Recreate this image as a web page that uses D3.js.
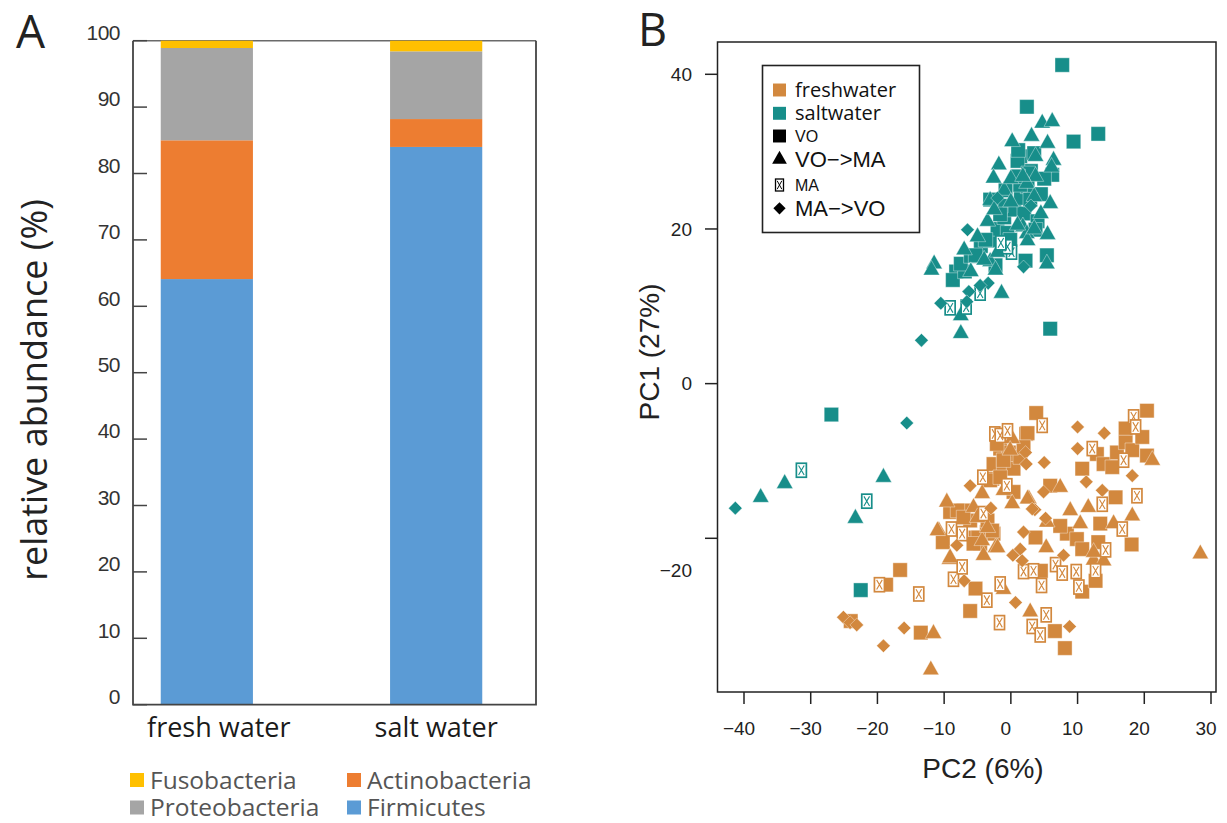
<!DOCTYPE html>
<html><head><meta charset="utf-8">
<script src="https://cdn.jsdelivr.net/npm/d3@7"></script>
<style>body{margin:0;background:#fff}</style>
</head><body>
<svg id="c" width="1227" height="823"></svg>
<script>
// ---------- Panel A data ----------
const barCategories = ["fresh water", "salt water"];
const phyla = ["Firmicutes", "Actinobacteria", "Proteobacteria", "Fusobacteria"];
const firmicutes = [64.1, 84.0];
const actinobacteria = [20.9, 4.2];
const proteobacteria = [13.9, 10.2];
const fusobacteria = [1.1, 1.6];
const barTicks = [0, 10, 20, 30, 40, 50, 60, 70, 80, 90, 100];
const legendRows = [["Fusobacteria", "Actinobacteria"], ["Proteobacteria", "Firmicutes"]];

// ---------- Panel B data ([PC2, PC1]) ----------
const pc2Ticks = [-40, -30, -20, -10, 0, 10, 20, 30];
const pc1Ticks = [-20, 0, 20, 40];
const habitats = ["freshwater", "saltwater"];
const treatments = ["VO", "VO->MA", "MA", "MA->VO"];

const saltVO = [[-26.9,-4.0],[-22.5,-26.7],[7.7,41.2],[2.4,35.8],[13.1,32.3],[9.4,31.3],[1.4,29.4],[6.2,27.0],[-8.2,14.5],[-8.7,13.4],[-6.9,14.5],[5.4,16.6],[5.9,7.1],[-7.5,15.5],[-6,16.5],[-4.5,17.8],[-3,18.5],[-2,20],[-1,21.5],[0.5,22.5],[1.5,24],[2.5,25.5],[3,27.5],[1,28.8],[2,22],[-0.5,19.5],[-1.5,23.0],[4,21],[4.5,24.5],[5,26.5],[3.5,29.8],[2.6,27.2],[-3.1,23.8],[-1.6,21.9],[2.9,23.8],[3.7,19.9],[-3.8,18.6],[-5.3,16.6],[-0.1,18.6],[1.4,25.7],[-0.8,25.0],[2.2,15.9],[-2.3,15.3],[1.1,30.2],[1.1,26.8]];
const saltVOMA = [[-33.9,-12.9],[-37.5,-14.7],[-19.1,-12.1],[-23.3,-17.4],[4.7,33.7],[6.2,33.9],[3.1,32.0],[0.2,31.3],[5.5,31.1],[3.7,29.4],[6.4,28.9],[-1.8,28.3],[-2.6,26.6],[3.7,26.8],[5.9,23.3],[-3.1,23.7],[1.8,20.3],[2.4,19.4],[-7.0,17.3],[-11.5,15.5],[-11.9,14.7],[-3.1,15.8],[5.4,15.5],[-1.4,11.7],[-2.3,14.7],[-7.5,8.8],[-7.5,6.5],[2.4,25.9],[3.5,24.2],[-5,19],[-3.5,21],[-2.5,22.5],[-1,25],[0,26.5],[1,20.5],[2.5,18.5],[3.5,20],[4.5,22],[-4,16],[-6,14.5],[0,23.5],[1.8,26.8],[-2,17],[5.5,19.3],[6.1,28.0]];
const saltMA = [[-31.4,-11.2],[-21.6,-15.2],[0.1,17.0],[-0.5,17.7],[-4.6,11.7],[-9.1,9.8],[-6.7,9.9],[-1.5,18.2]];
const saltMAVO = [[-15.6,-5.1],[-41.3,-16.1],[-6.5,19.9],[1.9,15.1],[-3.4,13.0],[-6.3,11.9],[-10.5,10.4],[-6.6,10.6],[-13.4,5.6],[-4.6,12.7],[-2,24],[3,23]];

const freshVO = [[-16.6,-24.1],[-18.7,-26.0],[-24.0,-30.7],[-13.5,-32.2],[-6.1,-29.4],[-5.3,-26.5],[6.6,-32.0],[8.1,-34.2],[4.5,-24.2],[10.7,-26.9],[12.7,-25.5],[13.1,-20.5],[18.1,-20.8],[15.7,-14.7],[13.4,-18.1],[8.4,-19.4],[9.9,-20.1],[7.4,-18.4],[10.7,-21.4],[3.7,-19.9],[5.9,-13.2],[0.4,-14.0],[-2.8,-12.3],[-9.1,-16.6],[-7.1,-16.4],[-6.1,-17.7],[-10.2,-20.5],[-5.3,-19.9],[-3.6,-19.2],[-2.6,-19.4],[-4.6,-20.7],[3.8,-3.8],[2.3,-6.5],[-1.6,-8.4],[-0.3,-8.9],[0.7,-9.5],[-2.6,-10.4],[-1.1,-10.4],[0.4,-11.0],[-3.1,-12.5],[12.9,-9.1],[10.7,-11.0],[13.9,-10.4],[15.2,-10.8],[15.9,-8.9],[17.2,-5.8],[17.2,-7.6],[18.2,-8.6],[20.4,-3.5],[19.7,-6.9],[20.4,-9.3],[-2.1,-7.8],[-1.1,-9.9],[1.4,-9.5],[2.5,-6.4],[1.9,-8.2],[-1.6,-12.1],[-8.0,-16.4],[-7.1,-17.3],[-3.5,-17.7],[-2.8,-19.0],[-4.9,-19.9],[-5.6,-20.7]];
const freshVOMA = [[-11.6,-32.3],[-12.0,-37.0],[-1.1,-26.6],[2.9,-29.5],[12.4,-22.8],[13.9,-22.9],[12.4,-21.8],[18.2,-17.1],[15.4,-18.1],[28.4,-22.0],[11.6,-16.0],[8.9,-16.4],[10.4,-18.1],[5.4,-17.9],[5.3,-21.2],[2.7,-14.9],[7.4,-13.4],[0.2,-15.5],[-4.3,-14.2],[-9.6,-15.3],[-5.6,-16.0],[-10.8,-19.0],[-2.3,-21.2],[-4.1,-22.2],[-9.2,-22.7],[0.2,-7.1],[21.2,-9.9],[-4.3,-20.3],[-0.1,-8.6],[-1.1,-13.8],[2.5,-14.9],[-11.0,-19.0],[-5.0,-17.3],[-3.5,-18.6],[-2.0,-21.2],[-9.1,-22.5]];
const freshMA = [[-19.7,-26.0],[-13.8,-27.2],[-8.6,-25.3],[-7.3,-23.7],[-3.6,-28.0],[-1.6,-25.9],[-1.7,-30.9],[5.3,-29.9],[3.2,-31.4],[4.4,-32.5],[1.9,-24.3],[3.4,-24.2],[6.7,-23.4],[7.7,-24.5],[4.6,-26.1],[9.8,-24.3],[10.2,-26.3],[12.7,-24.2],[14.2,-21.5],[16.7,-18.8],[18.9,-14.5],[13.7,-15.6],[-0.6,-13.2],[-4.2,-12.1],[-4.1,-16.8],[-8.9,-18.8],[-7.3,-19.4],[4.7,-5.4],[-2.4,-6.5],[-1.6,-6.7],[-0.5,-6.1],[12.2,-8.4],[18.4,-4.3],[18.7,-5.6],[16.9,-9.9]];
const freshMAVO = [[-25.1,-30.2],[-24.1,-30.9],[-23.1,-31.2],[-16.0,-31.6],[-19.1,-33.9],[-7.0,-25.5],[0.7,-28.3],[8.8,-31.4],[13.7,-13.8],[11.3,-12.7],[18.2,-11.9],[1.9,-19.2],[1.4,-21.4],[0.3,-22.2],[1.7,-22.9],[7.9,-22.2],[3.6,-16.3],[4.9,-14.0],[-6.1,-13.2],[-3.0,-16.1],[-8.1,-20.9],[2.2,-8.9],[2.3,-10.4],[5.0,-10.2],[10.0,-5.6],[14.0,-6.4],[10.0,-8.4],[3.2,-16.2],[5.2,-17.4]];

// ---------- styling ----------
const phylumColors = {Firmicutes:"#5B9BD5", Actinobacteria:"#ED7D31", Proteobacteria:"#A5A5A5", Fusobacteria:"#FFC000"};
const habitatColors = {freshwater:"#D2883E", saltwater:"#178E8A"};
const humanist = "'Open Sans', 'Noto Sans', sans-serif";
const arial = "'Liberation Sans', Arial, sans-serif";

const svg = d3.select("#c");

// ================= Panel A =================
const A = {left:133, right:536, top:40.7, bottom:704.7};
const yA = d3.scaleLinear().domain([0,100]).range([A.bottom, A.top]);
const xA = d3.scaleBand().domain(barCategories).range([A.left, 510]).paddingInner(0.598).paddingOuter(0.121);

const barTable = barCategories.map((c,i)=>({cat:c, Firmicutes:firmicutes[i], Actinobacteria:actinobacteria[i], Proteobacteria:proteobacteria[i], Fusobacteria:fusobacteria[i]}));
const stacked = d3.stack().keys(phyla)(barTable);

svg.append("line").attr("x1",A.left).attr("x2",A.right).attr("y1",A.top).attr("y2",A.top)
  .attr("stroke","#6a6a6a").attr("stroke-width",1.6);

svg.append("g").selectAll("g").data(stacked).join("g")
  .attr("fill", d=>phylumColors[d.key])
  .selectAll("rect").data(d=>d).join("rect")
  .attr("x", d=>xA(d.data.cat)).attr("width", xA.bandwidth())
  .attr("y", d=>yA(d[1])).attr("height", d=>yA(d[0])-yA(d[1]));

// frame
svg.append("path").attr("d",`M${A.left},${A.top}V${A.bottom}H${A.right}V${A.top}`)
  .attr("fill","none").attr("stroke","#444").attr("stroke-width",1.8);

// y axis (inward ticks)
const yAxisA = svg.append("g");
yAxisA.selectAll("line").data(barTicks).join("line")
  .attr("x1",A.left).attr("x2",A.left+14).attr("y1",d=>yA(d)).attr("y2",d=>yA(d))
  .attr("stroke","#444").attr("stroke-width",1.5);
yAxisA.selectAll("text").data(barTicks).join("text")
  .attr("x",A.left-13).attr("y",d=>yA(d)-8).attr("dy","0.35em")
  .attr("text-anchor","end").attr("font-family",arial).attr("font-size",21)
  .attr("fill","#333").attr("letter-spacing",-0.5).text(d=>d);

// category labels
svg.append("g").selectAll("text").data(barCategories).join("text")
  .attr("x",d=>xA(d)+xA.bandwidth()/2 + (d==="fresh water" ? 12 : 0)).attr("y",737)
  .attr("text-anchor","middle").attr("font-family",humanist).attr("font-size",27)
  .attr("fill","#1a1a1a").text(d=>d);

// y title
svg.append("text").attr("transform","translate(47,390) rotate(-90)")
  .attr("text-anchor","middle").attr("font-family",humanist).attr("font-size",36)
  .attr("fill","#222").text("relative abundance (%)");

// panel letter
svg.append("text").attr("x",16).attr("y",48).attr("font-family",humanist).attr("font-size",46)
  .attr("fill","#222").text("A");

// legend A
const legA = svg.append("g");
legendRows.forEach((row,ri)=>{
  row.forEach((name,ci)=>{
    const x0 = ci===0 ? 130 : 347;
    const yc = ri===0 ? 780 : 807.5;
    legA.append("rect").attr("x",x0).attr("y",yc-7).attr("width",14).attr("height",14)
      .attr("fill",phylumColors[name]);
    legA.append("text").attr("x",x0+20).attr("y",yc+8.5).attr("font-family",humanist)
      .attr("font-size",24.5).attr("fill","#555").text(name);
  });
});

// ================= Panel B =================
const B = {left:717.5, right:1216, top:42, bottom:692};
const xB = d3.scaleLinear().domain([-40,30]).range([744,1211]);
const yB = d3.scaleLinear().domain([-20,40]).range([538.3,74.3]);

function markerPath(type){
  if(type==="VO") return "M-7.2,-7.2H7.2V7.2H-7.2Z";
  if(type==="VO->MA") return "M0,-9.6L8.2,5L-8.2,5Z";
  if(type==="MA->VO") return "M0,-6.8L6.8,0L0,6.8L-6.8,0Z";
  return null;
}
function drawPoints(g, data, type, color){
  const sel = g.selectAll(null).data(data).join("g")
    .attr("transform", d=>`translate(${xB(d[0])},${yB(d[1])})`);
  if(type==="MA"){
    sel.append("rect").attr("x",-5).attr("y",-7).attr("width",10).attr("height",14)
      .attr("fill","#fff").attr("stroke",color).attr("stroke-width",1.7);
    sel.append("path").attr("d","M-2.8,-4.8L2.8,4.8M2.8,-4.8L-2.8,4.8")
      .attr("stroke",color).attr("stroke-width",1.1).attr("fill","none");
  } else {
    sel.append("path").attr("d",markerPath(type)).attr("fill",color)
      .attr("stroke","#fff").attr("stroke-width",0.7).attr("stroke-opacity",0.55);
  }
}

const pts = svg.append("g");
drawPoints(pts, saltVO, "VO", habitatColors.saltwater);
drawPoints(pts, saltVOMA, "VO->MA", habitatColors.saltwater);
drawPoints(pts, saltMA, "MA", habitatColors.saltwater);
drawPoints(pts, saltMAVO, "MA->VO", habitatColors.saltwater);
drawPoints(pts, freshVO, "VO", habitatColors.freshwater);
drawPoints(pts, freshVOMA, "VO->MA", habitatColors.freshwater);
drawPoints(pts, freshMA, "MA", habitatColors.freshwater);
drawPoints(pts, freshMAVO, "MA->VO", habitatColors.freshwater);

// frame
svg.append("rect").attr("x",B.left).attr("y",B.top).attr("width",B.right-B.left).attr("height",B.bottom-B.top)
  .attr("fill","none").attr("stroke","#222").attr("stroke-width",1.5);

// x axis
const xAxB = svg.append("g");
xAxB.selectAll("line").data(pc2Ticks).join("line")
  .attr("x1",d=>xB(d)).attr("x2",d=>xB(d)).attr("y1",B.bottom).attr("y2",B.bottom+12)
  .attr("stroke","#222").attr("stroke-width",1.5);
xAxB.selectAll("text").data(pc2Ticks).join("text")
  .attr("x",d=>xB(d)-5).attr("y",735).attr("text-anchor","middle")
  .attr("font-family",arial).attr("font-size",19).attr("fill","#222")
  .text(d=>d<0 ? "\u2212"+Math.abs(d) : d);

// y axis
const yAxB = svg.append("g");
yAxB.selectAll("line").data(pc1Ticks).join("line")
  .attr("x1",B.left-12.5).attr("x2",B.left).attr("y1",d=>yB(d)).attr("y2",d=>yB(d))
  .attr("stroke","#222").attr("stroke-width",1.5);
yAxB.selectAll("text").data(pc1Ticks).join("text")
  .attr("x",692).attr("y",d=>yB(d) + (d===-20 ? 32 : 0)).attr("dy","0.35em").attr("text-anchor","end")
  .attr("font-family",arial).attr("font-size",19).attr("fill","#222")
  .text(d=>d<0 ? "\u2212"+Math.abs(d) : d);

// axis titles
svg.append("text").attr("x",983).attr("y",778).attr("text-anchor","middle")
  .attr("font-family",arial).attr("font-size",28).attr("fill","#222").text("PC2 (6%)");
svg.append("text").attr("transform","translate(659,352) rotate(-90)").attr("text-anchor","middle")
  .attr("font-family",arial).attr("font-size",28).attr("fill","#222").text("PC1 (27%)");

svg.append("text").attr("x",638).attr("y",46).attr("font-family",humanist).attr("font-size",45)
  .attr("fill","#222").text("B");

// legend B
const legB = svg.append("g");
legB.append("rect").attr("x",762.5).attr("y",65.5).attr("width",157).attr("height",167)
  .attr("fill","#fff").attr("stroke","#222").attr("stroke-width",1.6);
const legItems = [
  {label:"freshwater", kind:"VO", color:habitatColors.freshwater, y:90, font:humanist, size:20},
  {label:"saltwater", kind:"VO", color:habitatColors.saltwater, y:113.3, font:humanist, size:20},
  {label:treatments[0], kind:"VO", color:"#000", y:136, font:arial, size:16},
  {label:"VO\u2212>MA", kind:"VO->MA", color:"#000", y:159.3, font:arial, size:22},
  {label:treatments[2], kind:"MA", color:"#000", y:185, font:arial, size:16},
  {label:"MA\u2212>VO", kind:"MA->VO", color:"#000", y:208.3, font:arial, size:22}
];
legItems.forEach(it=>{
  const g = legB.append("g").attr("transform",`translate(779.5,${it.y})`);
  if(it.kind==="MA"){
    g.append("rect").attr("x",-4).attr("y",-6).attr("width",8).attr("height",12)
      .attr("fill","#fff").attr("stroke","#000").attr("stroke-width",1.3);
    g.append("path").attr("d","M-2.3,-4.2L2.3,4.2M2.3,-4.2L-2.3,4.2").attr("stroke","#000").attr("stroke-width",1);
  } else {
    g.append("path").attr("d",markerPath(it.kind)).attr("fill",it.color).attr("transform","scale(0.9)");
  }
  legB.append("text").attr("x",795).attr("y",it.y).attr("dy","0.35em")
    .attr("font-family",it.font).attr("font-size",it.size).attr("fill","#111").text(it.label);
});
</script>
</body></html>
